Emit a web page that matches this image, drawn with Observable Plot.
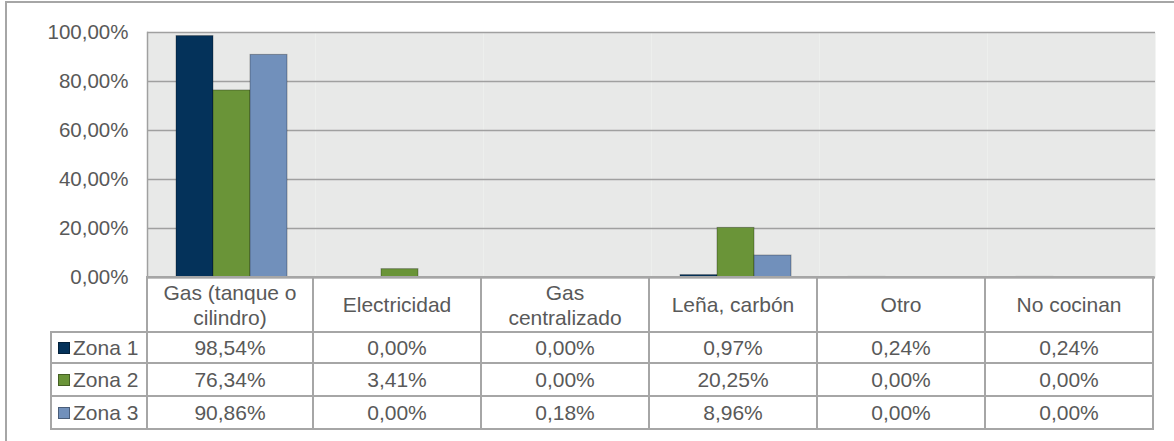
<!DOCTYPE html>
<html>
<head>
<meta charset="utf-8">
<script src="https://cdn.jsdelivr.net/npm/d3@7"></script>
<script src="https://cdn.jsdelivr.net/npm/@observablehq/plot@0.6"></script>
<style>
  html, body { margin: 0; padding: 0; background: #fff; }
  #wrap { position: relative; width: 1174px; height: 441px; overflow: hidden; font-family: 'Liberation Sans', Arial, sans-serif; }
  #frame { position: absolute; left: 5px; top: 1px; right: -10px; bottom: -10px; border-top: 2px solid #a6a6a6; border-left: 2px solid #a6a6a6; }
  #chart { position: absolute; left: 0; top: 0; }
  #tbl { position: absolute; left: 50px; top: 276px; display: grid;
         grid-template-columns: 96px repeat(6, 168px); grid-template-rows: 55px 33px 33px 33px;
         font-family: 'Liberation Sans', Arial, sans-serif; font-size: 21px; color: #595959; line-height: 25px; }
  #tbl .c { box-sizing: border-box; display: flex; align-items: center; justify-content: center; text-align: center; }
  #tbl .c .in { max-width: 150px; }
  #tbl .leg { justify-content: flex-start; padding-left: 6px; white-space: nowrap; }
  .bt { border-top: 2px solid #a6a6a6; }
  .bb { border-bottom: 2px solid #a6a6a6; }
  .bl { border-left: 2px solid #a6a6a6; }
  .br { border-right: 2px solid #a6a6a6; }
  .mk { display: inline-block; width: 10px; height: 10px; border: 1px solid rgba(0,0,0,0.35); margin-right: 3px; }
</style>
</head>
<body>
<div id="wrap">
  <div id="frame"></div>
  <div id="chart"></div>
  <div id="tbl"></div>
</div>
<script>
const categories = ["Gas (tanque o cilindro)", "Electricidad", "Gas centralizado", "Leña, carbón", "Otro", "No cocinan"];
const zones = ["Zona 1", "Zona 2", "Zona 3"];
const zona1 = [0.9854, 0.0000, 0.0000, 0.0097, 0.0024, 0.0024];
const zona2 = [0.7634, 0.0341, 0.0000, 0.2025, 0.0000, 0.0000];
const zona3 = [0.9086, 0.0000, 0.0018, 0.0896, 0.0000, 0.0000];
const zoneColors = ["#04325a", "#6a9438", "#7190bb"];
const yTicks = [0, 0.2, 0.4, 0.6, 0.8, 1];

const series = [zona1, zona2, zona3];
const data = [];
categories.forEach((c, i) => zones.forEach((z, j) => data.push({category: c, zone: z, value: series[j][i]})));

const fmt = d => (d * 100).toFixed(2).replace(".", ",") + "%";

const chart = Plot.plot({
  width: 1174,
  height: 278,
  marginLeft: 147,
  marginRight: 19,
  marginTop: 32,
  marginBottom: 1,
  style: {fontFamily: "'Liberation Sans', Arial, sans-serif", fontSize: "20.5px", color: "#595959", background: "transparent", overflow: "visible"},
  fx: {domain: categories, padding: 0, axis: null},
  x: {domain: zones, paddingInner: 0, paddingOuter: 0.74, axis: null},
  y: {domain: [0, 1], axis: null},
  color: {domain: zones, range: zoneColors},
  marks: [
    Plot.frame({fill: "#e8e9e8", stroke: "none"}),
    Plot.gridY(yTicks, {stroke: "#a0a0a0", strokeOpacity: 1, strokeWidth: 1.5}),
    Plot.axisY(yTicks, {tickSize: 0, tickPadding: 19, tickFormat: fmt, fill: "#595959", label: null}),
    Plot.barY(data, {fx: "category", x: "zone", y: "value", fill: "zone", stroke: "black", strokeOpacity: 0.3, strokeWidth: 1}),
    Plot.frame({anchor: "left", facetAnchor: "left", stroke: "#a0a0a0", strokeWidth: 1.5}),
    Plot.ruleY([0], {stroke: "#a0a0a0", strokeWidth: 2})
  ]
});
document.getElementById("chart").appendChild(chart);

// data table below the chart
const tbl = document.getElementById("tbl");
function cell(cls) { const d = document.createElement("div"); d.className = "c " + cls; tbl.appendChild(d); return d; }
cell("");
categories.forEach((c, i) => {
  const d = cell("bt br" + (i === 0 ? " bl" : ""));
  const t = document.createElement("div"); t.className = "in"; t.textContent = c; d.appendChild(t);
});
zones.forEach((z, r) => {
  const lg = cell("leg bl bb" + (r === 0 ? " bt" : ""));
  const mk = document.createElement("span");
  mk.className = "mk";
  mk.style.background = zoneColors[r];
  lg.appendChild(mk);
  lg.appendChild(document.createTextNode(z));
  series[r].forEach((v, i) => {
    const d = cell("br bb" + (r === 0 ? " bt" : "") + (i === 0 ? " bl" : ""));
    d.textContent = fmt(v);
  });
});
</script>
</body>
</html>
